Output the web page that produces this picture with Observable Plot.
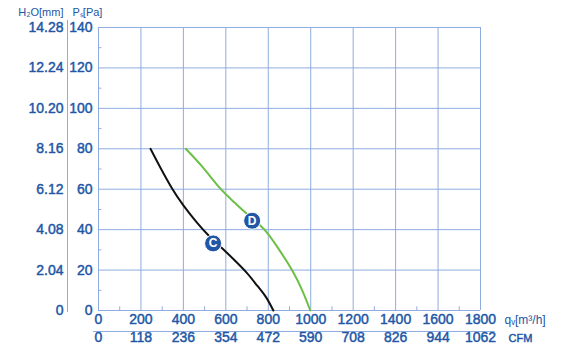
<!DOCTYPE html>
<html><head><meta charset="utf-8">
<script src="https://cdn.jsdelivr.net/npm/d3@7"></script>
<script src="https://cdn.jsdelivr.net/npm/@observablehq/plot@0.6"></script>
<style>body{margin:0;background:#fff}</style>
</head><body><div id="chart"></div>
<script>
// Flow ticks (m³/h) and CFM equivalents
const flowTicks = [0, 200, 400, 600, 800, 1000, 1200, 1400, 1600, 1800];
const cfmLabels = ["0", "118", "236", "354", "472", "590", "708", "826", "944", "1062"];
const flowMinor = [100, 300, 500, 700, 900, 1100, 1300, 1500, 1700];
// Pressure ticks (Pa) and mm H2O equivalents
const paTicks = [0, 20, 40, 60, 80, 100, 120, 140];
const h2oLabels = ["0", "2.04", "4.08", "6.12", "8.16", "10.20", "12.24", "14.28"];
const paMinor = [10, 30, 50, 70, 90, 110, 130];

// Curve C
const curveCFlow = [245, 290, 346, 400, 460, 520, 580, 640, 700, 750, 790, 824];
const curveCPa   = [80, 71, 60.5, 52, 44, 37, 31, 25, 18.5, 12, 6.5, 0];
// Curve D
const curveDFlow = [411, 490, 568, 640, 724, 790, 858, 913, 960, 998];
const curveDPa   = [80, 71, 61, 53.5, 45.5, 39, 29, 19.8, 10, 0];

// Curve labels
const labelNames = ["C", "D"];
const labelFlow = [540, 724];
const labelPa = [33.2, 44.4];

const curveC = curveCFlow.map((q, i) => ({q, p: curveCPa[i]}));
const curveD = curveDFlow.map((q, i) => ({q, p: curveDPa[i]}));
const labels = labelNames.map((t, i) => ({t, q: labelFlow[i], p: labelPa[i]}));

const grid = "#8eacdf";
const blue = "#2156a6";
const txt = {fill: blue, stroke: blue, strokeWidth: 0.45};

const chart = Plot.plot({
  width: 566,
  height: 360,
  marginLeft: 98,
  marginRight: 86,
  marginTop: 27,
  marginBottom: 50,
  x: {domain: [0, 1800], axis: null},
  y: {domain: [0, 140], axis: null},
  style: {fontFamily: "'Liberation Sans', Arial, sans-serif", background: "white"},
  marks: [
    Plot.gridX(flowTicks, {stroke: grid, strokeOpacity: 1, strokeWidth: 1}),
    Plot.gridY(paTicks, {stroke: grid, strokeOpacity: 1, strokeWidth: 1}),
    Plot.ruleX(flowMinor, {y1: 0, y2: 1.8, stroke: grid}),
    Plot.ruleY(paMinor, {x1: 0, x2: 16, stroke: grid}),
    // separators
    Plot.ruleX([0], {dx: -31, y1: -1, y2: 143.5, stroke: grid}),
    Plot.ruleY([0], {dy: 21, x1: -23, x2: 1870, stroke: grid}),
    // y labels
    Plot.text(paTicks, {y: d => d, text: d => String(d), frameAnchor: "left", dx: -6, textAnchor: "end", fontSize: 14, ...txt}),
    Plot.text(paTicks, {y: d => d, text: (d, i) => h2oLabels[i], frameAnchor: "left", dx: -35, textAnchor: "end", fontSize: 14, ...txt}),
    // x labels
    Plot.text(flowTicks, {x: d => d, text: d => String(d), frameAnchor: "bottom", dy: 13, fontSize: 14, ...txt}),
    Plot.text(flowTicks, {x: d => d, text: (d, i) => cfmLabels[i], frameAnchor: "bottom", dy: 31, fontSize: 14, ...txt}),
    // unit headers
    Plot.text(["H₂O[mm]"], {frameAnchor: "top-left", dx: -35, dy: -19, textAnchor: "end", fontSize: 11, fill: blue}),
    Plot.text(["Pₛ[Pa]"], {frameAnchor: "top-left", dx: -26, dy: -19, textAnchor: "start", fontSize: 11, fill: blue}),
    Plot.text(["qᵥ[m³/h]"], {frameAnchor: "bottom-right", dx: 24, dy: 13, textAnchor: "start", fontSize: 12, fill: blue}),
    Plot.text(["CFM"], {frameAnchor: "bottom-right", dx: 28, dy: 31, textAnchor: "start", fontSize: 11, ...txt}),
    // curves
    Plot.line(curveC, {x: "q", y: "p", stroke: "#111", strokeWidth: 2, curve: "natural"}),
    Plot.line(curveD, {x: "q", y: "p", stroke: "#6cbf45", strokeWidth: 2, curve: "natural"}),
    // curve labels
    Plot.dot(labels, {x: "q", y: "p", r: 8.5, fill: blue, stroke: "white", strokeWidth: 1}),
    Plot.text(labels, {x: "q", y: "p", text: "t", fill: "white", fontWeight: "bold", fontSize: 12})
  ]
});
document.getElementById("chart").appendChild(chart);
</script>
</body></html>
